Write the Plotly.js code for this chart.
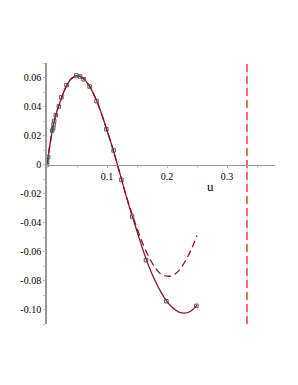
<!DOCTYPE html>
<html><head><meta charset="utf-8">
<script src="https://cdn.plot.ly/plotly-3.0.1.min.js"></script>
<style>html,body{margin:0;padding:0;background:#fff}#chart{width:298px;height:385px}</style>
</head><body><div id="chart"></div>
<script>
// Solid curve
var solidU = [0,0.005,0.01,0.015,0.02,0.03,0.04,0.05,0.06,0.07,0.08,0.09,0.1,0.11,0.12,0.13,0.14,0.15,0.16,0.17,0.18,0.19,0.2,0.21,0.22,0.23,0.24,0.25];
var solidV = [0,0.014,0.026,0.0345,0.041,0.052,0.0590,0.0612,0.0595,0.0545,0.0465,0.036,0.0235,0.0105,-0.004,-0.019,-0.033,-0.046,-0.059,-0.0705,-0.080,-0.088,-0.0945,-0.099,-0.1018,-0.1025,-0.101,-0.097];
// Dashed curve
var dashU = [0,0.005,0.01,0.015,0.02,0.03,0.04,0.05,0.06,0.07,0.08,0.09,0.1,0.11,0.12,0.13,0.14,0.15,0.16,0.17,0.18,0.19,0.2,0.21,0.22,0.23,0.24,0.25];
var dashV = [0,0.014,0.026,0.0345,0.041,0.052,0.0590,0.0612,0.0595,0.0545,0.0465,0.036,0.0235,0.0105,-0.004,-0.0185,-0.032,-0.044,-0.055,-0.064,-0.071,-0.0755,-0.077,-0.0765,-0.073,-0.067,-0.059,-0.049];
// Data markers
var ptU = [0,0,0.002,0.0087,0.0103,0.011,0.012,0.0147,0.0197,0.024,0.0325,0.049,0.055,0.061,0.071,0.0825,0.099,0.111,0.124,0.142,0.165,0.199,0.249];
var ptV = [0,0.002,0.005,0.0234,0.025,0.0276,0.030,0.034,0.040,0.0464,0.0547,0.0614,0.0607,0.0588,0.0538,0.0437,0.0243,0.0097,-0.0106,-0.0359,-0.066,-0.0943,-0.0975];
// Asymptote
var asymU = [1/3, 1/3];
var asymV = [-0.11, 0.07];
var yTicks = [-0.10,-0.08,-0.06,-0.04,-0.02,0,0.02,0.04,0.06];
var yTickText = ["-0.10","-0.08","-0.06","-0.04","-0.02","0","0.02","0.04","0.06"];
var xTicks = [0.1,0.2,0.3];
var xTickText = ["0.1","0.2","0.3"];

var curveColor = '#8b1526';
var traces = [
  {x: asymU, y: asymV, mode:'lines', line:{color:'#ff4747', width:1.6, dash:'8px,4px'}, hoverinfo:'skip'},
  {x: dashU, y: dashV, mode:'lines', line:{color:curveColor, width:1.3, dash:'7px,4px', shape:'spline'}},
  {x: solidU, y: solidV, mode:'lines', line:{color:curveColor, width:1.3, shape:'spline'}},
  {x: ptU, y: ptV, mode:'markers', marker:{symbol:'square-open', size:3.5, color:'#555', line:{width:1, color:'#555'}}}
];
var font = {family:'Liberation Serif, serif', size:10, color:'#000'};
var layout = {
  width:298, height:385,
  margin:{l:47, r:23, t:63, b:61},
  paper_bgcolor:'#fff', plot_bgcolor:'#fff',
  showlegend:false,
  font: font,
  xaxis:{range:[0,0.38], showgrid:false, zeroline:false, showline:true, linecolor:'#999', linewidth:1.8,
    anchor:'free', position:0.6111, tickvals:xTicks, ticktext:xTickText, ticks:'outside', ticklen:2, tickcolor:'#bbb',
    minor:{dtick:0.05, ticks:'outside', ticklen:2, tickcolor:'#ccc'}, tickfont:font, fixedrange:true},
  yaxis:{range:[-0.11,0.07], showgrid:false, zeroline:false, showline:true, linecolor:'#999', linewidth:1.8,
    tickvals:yTicks, ticktext:yTickText, ticks:'outside', ticklen:2, tickcolor:'#bbb',
    minor:{dtick:0.01, ticks:'outside', ticklen:2, tickcolor:'#ccc'}, tickfont:font, fixedrange:true},
  annotations:[{x:0.273, y:-0.0155, xref:'x', yref:'y', text:'u', showarrow:false,
    font:{family:'Liberation Serif, serif', size:13, color:'#000'}}]
};
Plotly.newPlot('chart', traces, layout, {displayModeBar:false, staticPlot:true});
</script></body></html>
